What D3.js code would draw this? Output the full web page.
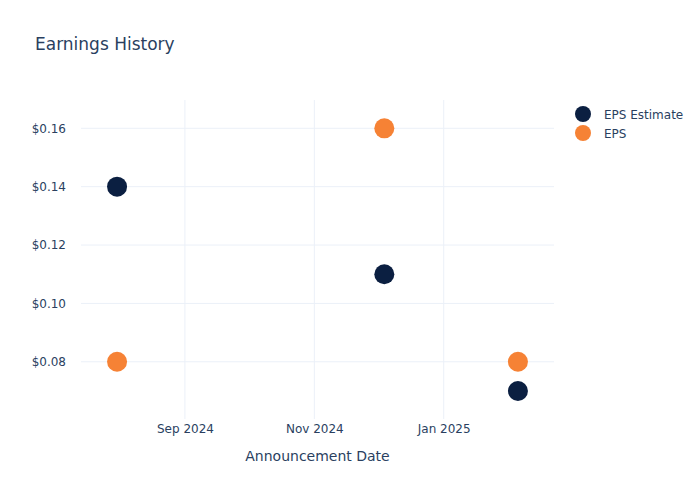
<!DOCTYPE html>
<html>
<head>
<meta charset="utf-8">
<script src="https://cdn.jsdelivr.net/npm/d3@7"></script>
<style>
  body { margin: 0; background: #fff; }
  text { font-family: "DejaVu Sans", Verdana, sans-serif; fill: #2a3f5f; }
</style>
</head>
<body>
<div id="chart"></div>
<script>
// announcement dates and values
const dates = ['2024-07-31', '2024-12-04', '2025-02-05'];
const epsEstimate = [0.14, 0.11, 0.07];
const epsActual = [0.08, 0.16, 0.08];
const yTicks = [0.08, 0.10, 0.12, 0.14, 0.16];
const xTicks = ['2024-09-01', '2024-11-01', '2025-01-01'];

const seriesNames = ['EPS Estimate', 'EPS'];
const seriesColors = ['#0b1f41', '#f68235'];

const parse = d3.utcParse('%Y-%m-%d');

const width = 700, height = 500;
const margin = { top: 100, right: 146, bottom: 81, left: 81 };
const innerW = width - margin.left - margin.right;
const innerH = height - margin.top - margin.bottom;

const svg = d3.select('#chart').append('svg')
  .attr('width', width)
  .attr('height', height);

const xScale = d3.scaleUtc()
  .domain([parse('2024-07-14'), parse('2025-02-22')])
  .range([0, innerW]);
const yScale = d3.scaleLinear()
  .domain([0.0604, 0.1697])
  .range([innerH, 0]);

const g = svg.append('g')
  .attr('transform', `translate(${margin.left},${margin.top})`);

// grid
g.selectAll('.ygrid').data(yTicks).enter().append('line')
  .attr('x1', 0).attr('x2', innerW)
  .attr('y1', d => yScale(d)).attr('y2', d => yScale(d))
  .attr('stroke', '#ebf0f8').attr('stroke-width', 1);
g.selectAll('.xgrid').data(xTicks).enter().append('line')
  .attr('x1', d => xScale(parse(d))).attr('x2', d => xScale(parse(d)))
  .attr('y1', 0).attr('y2', innerH)
  .attr('stroke', '#ebf0f8').attr('stroke-width', 1);

// axes
const yAxis = g.append('g')
  .call(d3.axisLeft(yScale).tickValues(yTicks).tickSize(0).tickPadding(15)
    .tickFormat(d => '$' + d3.format('.2f')(d)));
const xAxis = g.append('g')
  .attr('transform', `translate(0,${innerH})`)
  .call(d3.axisBottom(xScale).tickValues(xTicks.map(parse)).tickSize(0).tickPadding(5)
    .tickFormat(d3.utcFormat('%b %Y')));
[yAxis, xAxis].forEach(a => {
  a.select('.domain').remove();
  a.selectAll('text').style('font-size', '12px').attr('fill', '#2a3f5f')
    .style('font-family', '"DejaVu Sans", Verdana, sans-serif');
});

// points
const allSeries = [epsEstimate, epsActual];
allSeries.forEach((vals, i) => {
  g.selectAll('.pt' + i).data(vals).enter().append('circle')
    .attr('cx', (d, j) => xScale(parse(dates[j])))
    .attr('cy', d => yScale(d))
    .attr('r', 10)
    .attr('fill', seriesColors[i]);
});

// title
svg.append('text')
  .attr('x', 35).attr('y', 50)
  .style('font-size', '17px')
  .text('Earnings History');

// x axis title
svg.append('text')
  .attr('x', margin.left + innerW / 2).attr('y', 461)
  .attr('text-anchor', 'middle')
  .style('font-size', '14px')
  .text('Announcement Date');

// legend
const legend = svg.append('g').attr('transform', 'translate(583,114)');
seriesNames.forEach((name, i) => {
  legend.append('circle')
    .attr('cx', 0).attr('cy', i * 19)
    .attr('r', 8)
    .attr('fill', seriesColors[i]);
  legend.append('text')
    .attr('x', 21).attr('y', i * 19 + 4.5)
    .style('font-size', '12px')
    .text(name);
});
</script>
</body>
</html>
